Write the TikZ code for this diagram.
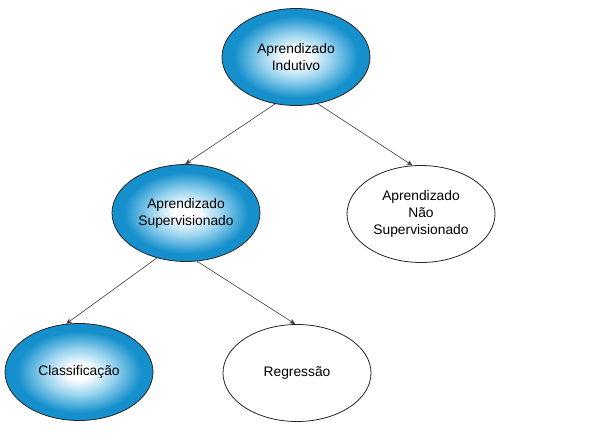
\documentclass[tikz,border=0pt]{standalone}
\usepackage{fontspec}
\setmainfont{Liberation Sans}
\usetikzlibrary{shapes.geometric,arrows.meta}
\definecolor{blueC}{RGB}{22,144,204}
\definecolor{midC}{RGB}{150,210,238}
\definecolor{lineC}{RGB}{60,60,60}
\pgfdeclareradialshading{myrad}{\pgfpoint{0bp}{0bp}}{color(0bp)=(white); color(4bp)=(white); color(12bp)=(midC); color(21bp)=(blueC); color(50bp)=(blueC)}
\tikzset{
  elbase/.style={ellipse, draw=black!85, line width=0.8pt, minimum width=148pt, minimum height=97pt, inner sep=0pt, align=center, font=\fontsize{13.8}{17}\selectfont},
  elblue/.style={elbase, shading=myrad},
  elwhite/.style={elbase, fill=white},
  conn/.style={draw=lineC, line width=0.6pt, -{Stealth[length=6pt,width=5pt]}}
}
\begin{document}
\begin{tikzpicture}[x=1pt,y=-1pt]
\useasboundingbox (0,0) rectangle (600,433);
\node[elblue] (ind) at (296,57) {Aprendizado\\Indutivo};
\node[elblue] (sup) at (186,213) {Aprendizado\\Supervisionado};
\node[elwhite] (nsup) at (421,214) {Aprendizado\\Não\\Supervisionado};
\node[elblue] (cla) at (79,372) {Classificação};
\node[elwhite] (reg) at (297,373) {Regressão};
\draw[conn] (ind.246) -- (sup.91);
\draw[conn] (ind.295) -- (nsup.100);
\draw[conn] (sup.237) -- (cla.105);
\draw[conn] (sup.283) -- (reg.92);
\end{tikzpicture}
\end{document}
